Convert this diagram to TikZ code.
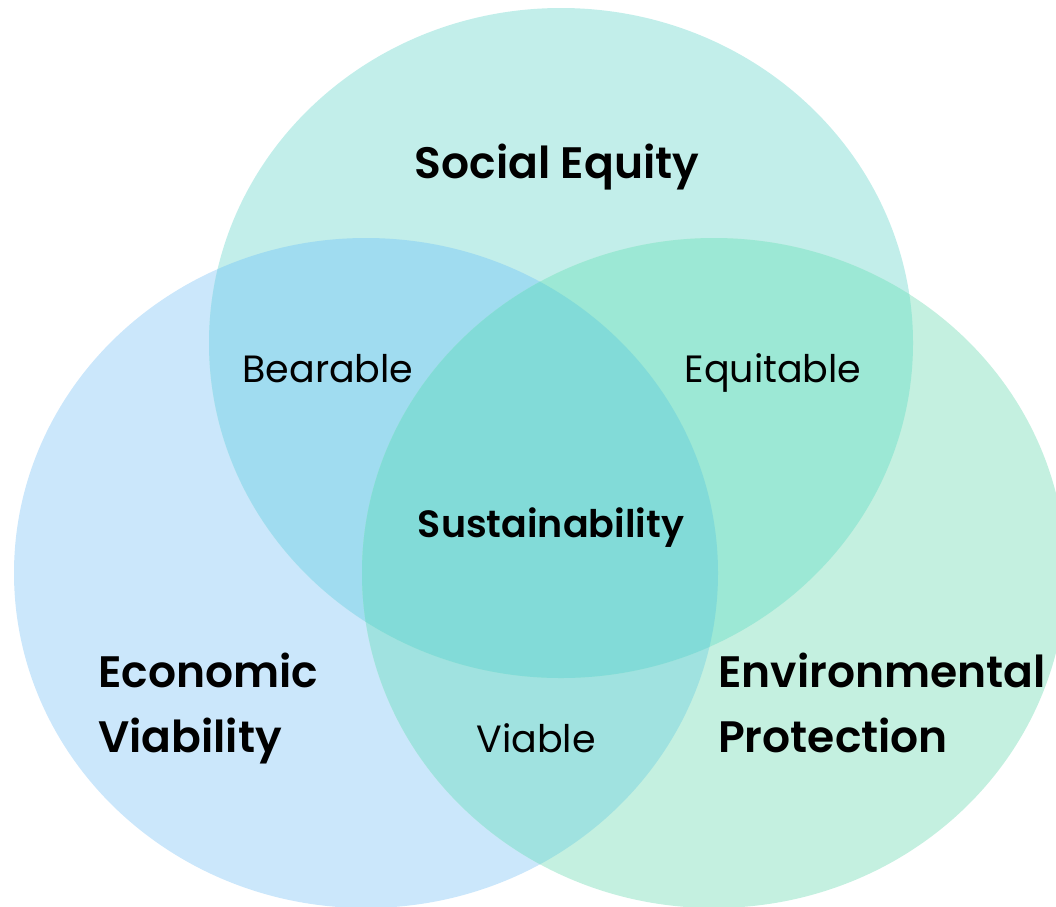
\documentclass[tikz,border=0pt]{standalone}
\usepackage{fontspec}
\setmainfont{Poppins}[BoldFont={Poppins SemiBold}]
\definecolor{cL}{HTML}{CBE7FB}
\definecolor{cT}{HTML}{C2EEEA}
\definecolor{cR}{HTML}{C4F0E0}
\definecolor{cLT}{HTML}{A0DCF0}
\definecolor{cTR}{HTML}{9CE8D5}
\definecolor{cLR}{HTML}{A0E2E0}
\definecolor{cLTR}{HTML}{82DBD8}
\begin{document}
\begin{tikzpicture}[x=1pt,y=-1pt,
  big/.style={font=\fontsize{44}{44}\selectfont\bfseries, inner sep=0pt},
  mid/.style={font=\fontsize{38}{38}\selectfont\bfseries, inner sep=0pt},
  small/.style={font=\fontsize{38}{38}\selectfont, inner sep=0pt},
  circ/.style={x radius=352pt, y radius=335pt}]
\useasboundingbox (0,0) rectangle (1056,906);
\coordinate (L) at (366,573);
\coordinate (T) at (561,343);
\coordinate (R) at (714,573);
\fill[cL] (L) ellipse [circ];
\fill[cT] (T) ellipse [circ];
\fill[cR] (R) ellipse [circ];
\begin{scope}
  \clip (L) ellipse [circ];
  \fill[cLT] (T) ellipse [circ];
  \fill[cLR] (R) ellipse [circ];
\end{scope}
\begin{scope}
  \clip (T) ellipse [circ];
  \fill[cTR] (R) ellipse [circ];
  \clip (R) ellipse [circ];
  \fill[cLTR] (L) ellipse [circ];
\end{scope}
\node[big, anchor=base] (se) at (557,178) {Social Equity};
\node[small, anchor=base] (be) at (328,382) {Bearable};
\node[small, anchor=base] (eq) at (773,382) {Equitable};
\node[mid, anchor=base] (su) at (551,537) {Sustainability};
\node[small, anchor=base] (vi) at (536,752) {Viable};
\node[big, anchor=base west] (ec) at (98,687) {Economic};
\node[big, anchor=base west] (ev) at (98,752) {Viability};
\node[big, anchor=base west] (en) at (718,687) {Environmental};
\node[big, anchor=base west] (pr) at (718,752) {Protection};
\end{tikzpicture}
\end{document}
